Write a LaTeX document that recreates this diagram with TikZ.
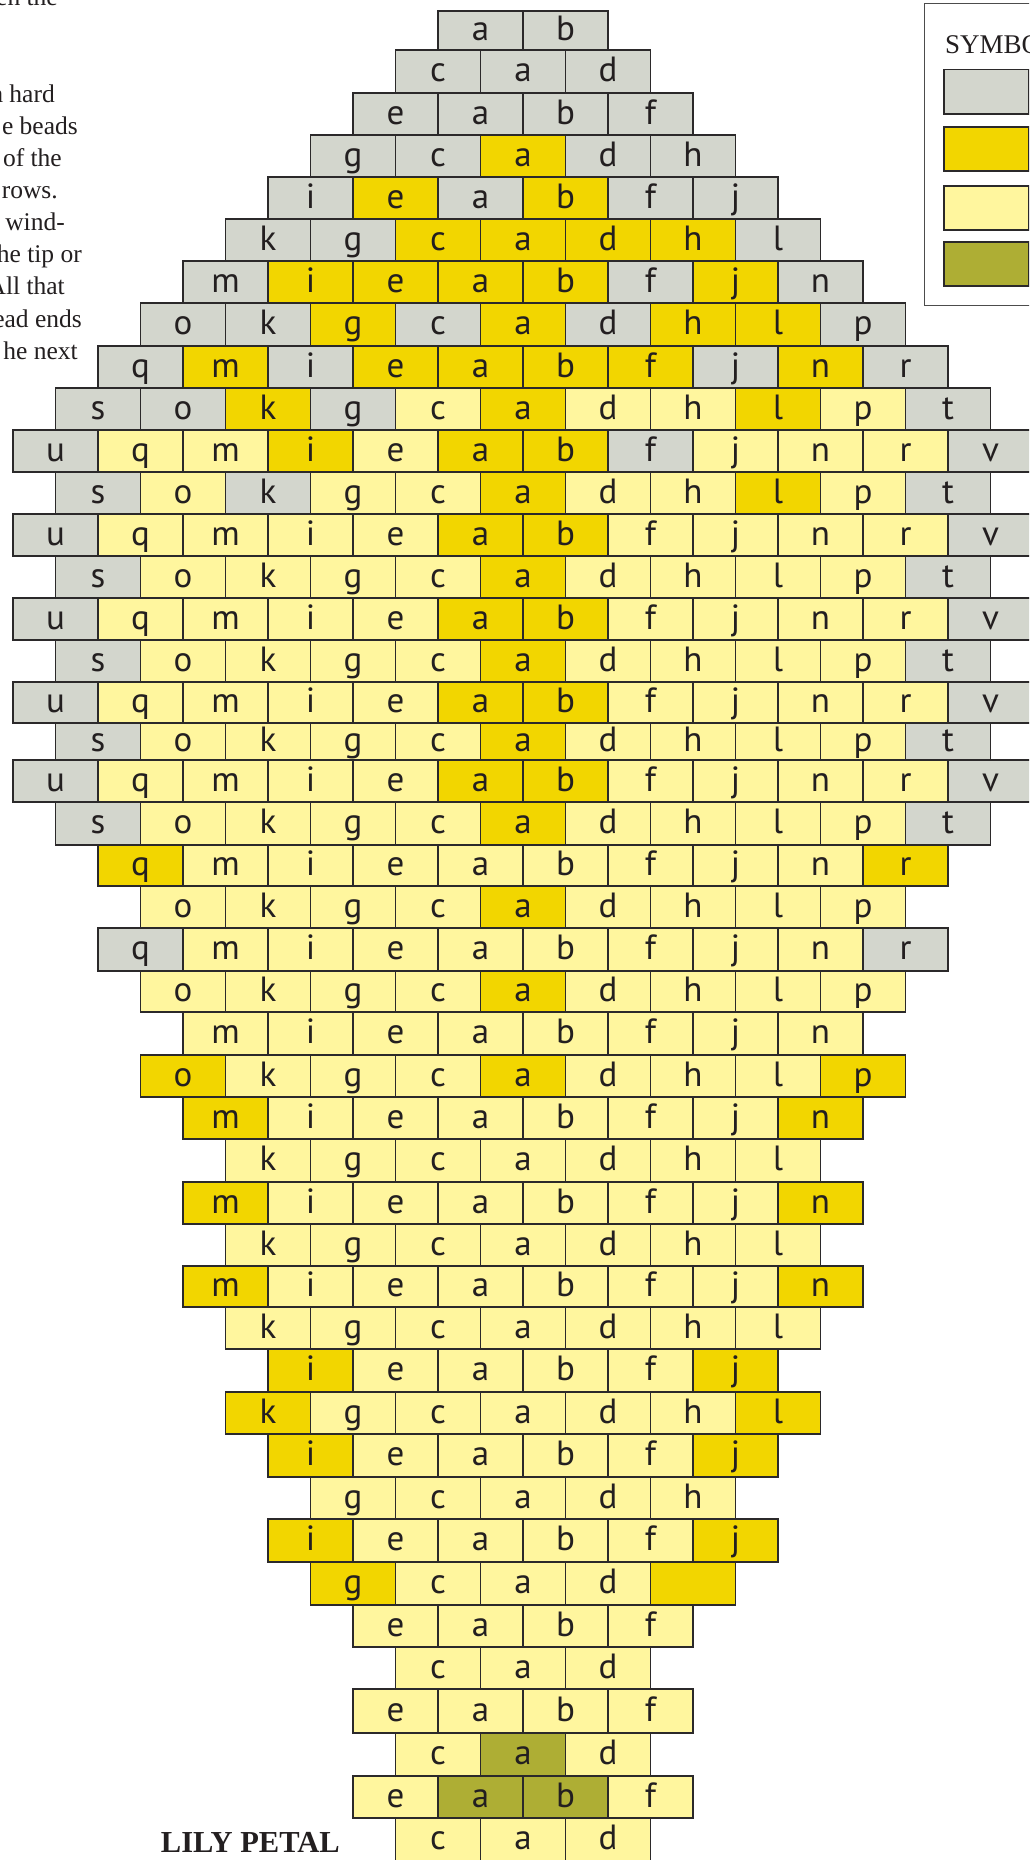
\documentclass[tikz,border=0pt]{standalone}
\usepackage{fontspec}
\setmainfont{Liberation Serif}
\newfontfamily\beadfont{PT Sans}
\definecolor{beadG}{RGB}{211,214,205}
\definecolor{beadY}{RGB}{242,214,0}
\definecolor{beadL}{RGB}{255,246,158}
\definecolor{beadO}{RGB}{174,174,52}
\definecolor{ink}{RGB}{35,31,32}
\definecolor{edge}{RGB}{43,41,42}
\begin{document}
\begin{tikzpicture}[x=1pt,y=-1pt,
  bead/.style={draw=edge, line width=1.4pt, inner sep=0pt, minimum width=85pt,
    text=ink, font=\beadfont\fontsize{35}{35}\selectfont, text height=24pt, text depth=4pt},
  swatch/.style={draw=edge, line width=1.5pt, minimum width=85pt, minimum height=44pt,
    inner sep=0pt, anchor=north west},
  note/.style={anchor=base east, inner sep=0pt, text=ink, font=\fontsize{25.5}{25.5}\selectfont}]
\useasboundingbox (0,0) rectangle (1029,1860);
\clip (0,0) rectangle (1029,1860);
\fill[white] (0,0) rectangle (1029,1860);

% colour codes: 1 grey, 2 yellow, 3 light yellow, 4 olive, 5 yellow without letter
\foreach \rt/\rb/\rn/\rc [count=\ri] in {
  11/50/2/{1,1},
  50/93/3/{1,1,1},
  93/135/4/{1,1,1,1},
  135/177/5/{1,1,2,1,1},
  177/219/6/{1,2,1,2,1,1},
  219/261/7/{1,1,2,2,2,2,1},
  261/303/8/{1,2,2,2,2,1,2,1},
  303/346/9/{1,1,2,1,2,1,2,2,1},
  346/388/10/{1,2,1,2,2,2,2,1,2,1},
  388/430/11/{1,1,2,1,3,2,3,3,2,3,1},
  430/472/12/{1,3,3,2,3,2,2,1,3,3,3,1},
  472/514/11/{1,3,1,3,3,2,3,3,2,3,1},
  514/556/12/{1,3,3,3,3,2,2,3,3,3,3,1},
  556/598/11/{1,3,3,3,3,2,3,3,3,3,1},
  598/640/12/{1,3,3,3,3,2,2,3,3,3,3,1},
  640/682/11/{1,3,3,3,3,2,3,3,3,3,1},
  682/723/12/{1,3,3,3,3,2,2,3,3,3,3,1},
  723/760/11/{1,3,3,3,3,2,3,3,3,3,1},
  760/802/12/{1,3,3,3,3,2,2,3,3,3,3,1},
  802/845/11/{1,3,3,3,3,2,3,3,3,3,1},
  845/886/10/{2,3,3,3,3,3,3,3,3,2},
  886/928/9/{3,3,3,3,2,3,3,3,3},
  928/971/10/{1,3,3,3,3,3,3,3,3,1},
  971/1012/9/{3,3,3,3,2,3,3,3,3},
  1012/1055/8/{3,3,3,3,3,3,3,3},
  1055/1097/9/{2,3,3,3,2,3,3,3,2},
  1097/1139/8/{2,3,3,3,3,3,3,2},
  1139/1182/7/{3,3,3,3,3,3,3},
  1182/1224/8/{2,3,3,3,3,3,3,2},
  1224/1266/7/{3,3,3,3,3,3,3},
  1266/1307/8/{2,3,3,3,3,3,3,2},
  1307/1349/7/{3,3,3,3,3,3,3},
  1349/1392/6/{2,3,3,3,3,2},
  1392/1434/7/{2,3,3,3,3,3,2},
  1434/1477/6/{2,3,3,3,3,2},
  1477/1519/5/{3,3,3,3,3},
  1519/1562/6/{2,3,3,3,3,2},
  1562/1605/5/{2,3,3,3,5},
  1605/1647/4/{3,3,3,3},
  1647/1689/3/{3,3,3},
  1689/1733/4/{3,3,3,3},
  1733/1776/3/{3,4,3},
  1776/1818/4/{3,4,4,3},
  1818/1861/3/{3,3,3}} {
  \pgfmathsetmacro\hh{\rb-\rt}
  \pgfmathsetmacro\yc{(\rt+\rb)/2}
  \foreach \c [count=\ci] in \rc {
    \ifodd\rn\relax
      \pgfmathtruncatemacro\idx{5-(\rn-1)/2+\ci-1}%
      \pgfmathparse{{"s","o","k","g","c","a","d","h","l","p","t"}[\idx]}%
    \else
      \pgfmathtruncatemacro\idx{6-\rn/2+\ci-1}%
      \pgfmathparse{{"u","q","m","i","e","a","b","f","j","n","r","v"}[\idx]}%
    \fi
    \let\lett\pgfmathresult
    \ifnum\c=5\relax \def\lett{}\fi
    \edef\fc{\ifcase\c\or beadG\or beadY\or beadL\or beadO\or beadY\fi}
    \node[bead, fill=\fc, minimum height=\hh pt] (b\ri-\ci)
      at ({523+(\ci-(\rn+1)/2)*85}, \yc) {\lett};
  }
}

% legend (cut by the right edge)
\node[draw=black!70, line width=0.9pt, minimum width=200pt, minimum height=302pt,
  anchor=north west, inner sep=0pt] (legend) at (924,3) {};
\node[anchor=base west, inner sep=0pt, text=ink, font=\fontsize{27}{27}\selectfont]
  (legtitle) at (945,53) {SYMBOLS};
\node[swatch, fill=beadG] (sw1) at (943,69) {};
\node[swatch, fill=beadY] (sw2) at (943,126) {};
\node[swatch, fill=beadL] (sw3) at (943,185) {};
\node[swatch, fill=beadO] (sw4) at (943,241) {};

% text fragments at the left edge
\node[note] (t0) at (58,6) {en the};
\node[note] (t1) at (55,102) {a hard};
\node[note] (t2) at (78,134) {e beads};
\node[note] (t3) at (62,166) {of the};
\node[note] (t4) at (58,198) {rows.};
\node[note] (t5) at (65,230) {wind-};
\node[note] (t6) at (82,262) {he tip or};
\node[note] (t7) at (65,294) {All that};
\node[note] (t8) at (82,327) {ead ends};
\node[note] (t9) at (78,359) {he next};

\node[anchor=base east, inner sep=0pt, text=ink, font=\bfseries\fontsize{30.5}{30.5}\selectfont]
  (title) at (340,1852) {LILY PETAL};
\end{tikzpicture}
\end{document}
